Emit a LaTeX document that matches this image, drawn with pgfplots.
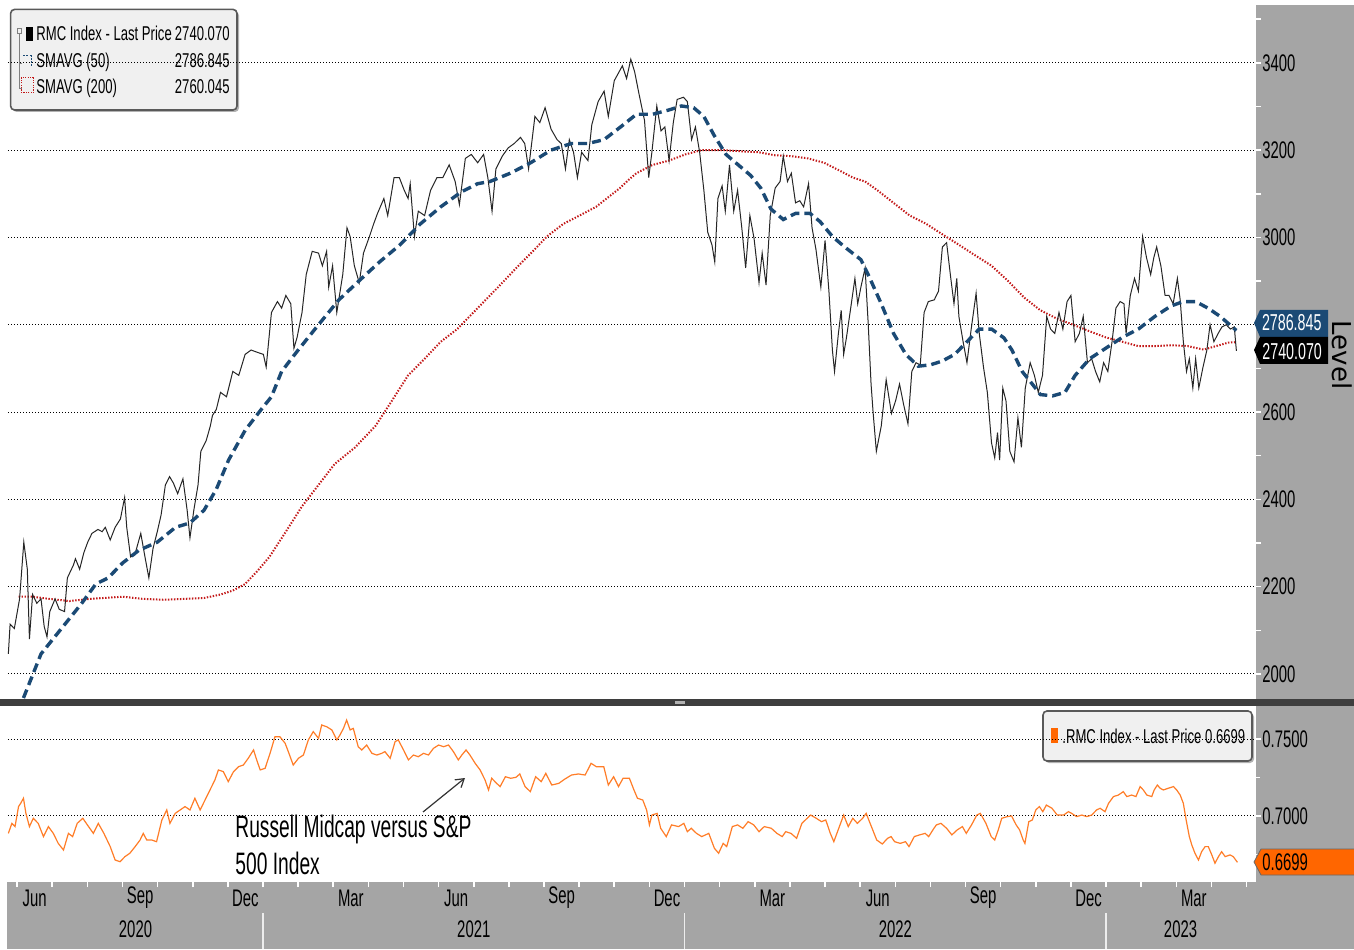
\documentclass[border=0pt]{standalone}
\usepackage{fontspec}
\setmainfont{Liberation Sans}[FakeStretch=0.655]
\newfontfamily\tickfont{Liberation Sans}[FakeStretch=0.62]
\newfontfamily\levelfont{DejaVu Sans}
\usepackage{pgfplots}
\pgfplotsset{compat=1.18}
\usetikzlibrary{arrows.meta}
\definecolor{navy}{RGB}{27,74,117}
\definecolor{smared}{RGB}{195,25,25}
\definecolor{ratioorange}{RGB}{255,125,40}
\definecolor{panelgray}{RGB}{165,165,165}
\definecolor{bargray}{RGB}{62,62,62}
\definecolor{boxorange}{RGB}{255,102,0}
\newcommand{\tf}{\tickfont\fontsize{12}{12}\selectfont}
\newcommand{\lf}{\fontsize{10}{10}\selectfont}
\begin{document}
\begin{tikzpicture}
\useasboundingbox (0pt,0pt) rectangle (677pt,474.5pt);
\fill[white] (0pt,0pt) rectangle (677pt,474.5pt);
\fill[panelgray] (628pt,0pt) rectangle (677pt,472pt);
\fill[panelgray] (3.5pt,0pt) rectangle (677pt,33.5pt);
\fill[bargray] (0pt,121.5pt) rectangle (677pt,125pt);
\fill[gray!60] (337.5pt,122.3pt) rectangle (342.5pt,124.2pt);
% upper legend box
\fill[black!30, rounded corners=2pt] (6.3pt,418.5pt) rectangle (119.5pt,468.8pt);
\draw[rounded corners=2pt, fill=black!6, draw=black!65, line width=0.8pt] (5.3pt,419.5pt) rectangle (118.5pt,469.8pt);
\draw[gray, line width=0.3pt] (8.7pt,457.8pt) rectangle (10.5pt,460.5pt);
\draw[gray, line width=0.3pt] (9.6pt,457.8pt) -- (9.6pt,430.5pt) -- (11pt,430.5pt);
\draw[gray, line width=0.3pt] (9.6pt,443pt) -- (11pt,443pt);
\fill[black] (13pt,454.2pt) rectangle (16.7pt,460.8pt);
\draw[navy, line width=0.5pt, dash pattern=on 1pt off 0.7pt] (11.5pt,446.5pt) -- (15.8pt,446.5pt) -- (15.8pt,441pt);
\draw[smared, line width=0.5pt, dash pattern=on 0.6pt off 0.6pt] (10.5pt,428pt) rectangle (16.5pt,435.5pt);
\node[anchor=base west, inner sep=0, font=\lf] at (18pt,454.2pt) {RMC Index - Last Price};
\node[anchor=base east, inner sep=0, font=\lf] at (115pt,454.2pt) {2740.070};
\node[anchor=base west, inner sep=0, font=\lf] at (18pt,440.8pt) {SMAVG (50)};
\node[anchor=base east, inner sep=0, font=\lf] at (115pt,440.8pt) {2786.845};
\node[anchor=base west, inner sep=0, font=\lf] at (18pt,427.5pt) {SMAVG (200)};
\node[anchor=base east, inner sep=0, font=\lf] at (115pt,427.5pt) {2760.045};
% lower legend box
\fill[black!30, rounded corners=2pt] (522.5pt,93pt) rectangle (627pt,118pt);
\draw[rounded corners=2pt, fill=black!6, draw=black!65, line width=0.8pt] (521.5pt,94pt) rectangle (626pt,119pt);
\fill[boxorange] (525.5pt,103pt) rectangle (529pt,110.5pt);
\node[anchor=base west, inner sep=0, font=\lf] at (531pt,103pt) {.RMC Index - Last Price 0.6699};

\begin{scope}[shift={(4pt,125pt)}]
\begin{axis}[
  at={(0pt,0pt)}, anchor=south west, scale only axis,
  width=623.5pt, height=347pt,
  xmin=4.74, xmax=40.24, ymin=1942.7, ymax=3532.3,
  axis line style={draw=none},
  xtick=\empty,
  ytick={2000,2200,2400,2600,2800,3000,3200,3400},
  yticklabels={2000,2200,2400,2600,,3000,3200,3400},
  minor ytick={2100,2300,...,3500},
  ytick pos=right, yticklabel pos=right,
  tick align=outside,
  major tick length=3pt, minor tick length=3pt,
  tick style={white, line width=0.8pt},
  ymajorgrids,
  major grid style={black, line width=0.5pt, dash pattern=on 0.5pt off 1pt},
  yticklabel style={font=\tf, anchor=west, inner sep=0pt, xshift=0.5pt},
  /pgf/number format/assume math mode=true,
  /pgf/number format/1000 sep={},
  scaled y ticks=false,
  clip mode=individual,
]
\addplot[smared, line width=1pt, dash pattern=on 0.7pt off 0.8pt] table[x=m,y=v] {
m v
5.04 2177
5.44 2177
5.91 2172
6.49 2167
7.07 2172
8.00 2177
8.58 2172
9.16 2170
9.74 2172
10.32 2174
10.79 2182
11.14 2191
11.49 2206
11.83 2235
12.18 2268
12.65 2326
13.11 2384
13.58 2433
14.04 2481
14.62 2519
15.20 2568
15.67 2626
16.13 2684
16.60 2722
17.06 2761
17.53 2790
17.88 2819
18.34 2857
18.81 2896
19.27 2935
19.74 2973
20.08 3002
20.55 3031
21.01 3050
21.48 3070
21.94 3099
22.16 3113
22.41 3132
22.63 3147
23.09 3166
23.56 3176
24.02 3190
24.49 3200
25.07 3200
25.65 3197
26.11 3195
26.58 3188
27.04 3186
27.51 3181
27.97 3171
28.44 3152
28.79 3137
29.14 3128
29.49 3108
29.95 3079
30.41 3050
30.88 3031
31.34 3007
31.81 2983
32.27 2959
32.74 2935
33.20 2901
33.67 2862
34.13 2833
34.60 2814
35.06 2800
35.53 2785
35.99 2771
36.46 2761
36.92 2751
37.39 2751
37.85 2753
38.32 2751
38.78 2743
39.13 2751
39.48 2759
39.71 2760.045
};
\addplot[black!85, line width=0.5pt] table[x=m,y=v] {
m v
4.75 2046
4.80 2114
4.92 2104
5.07 2172
5.19 2302
5.29 2240
5.35 2080
5.44 2182
5.56 2162
5.68 2172
5.77 2109
5.85 2085
5.93 2143
6.08 2172
6.20 2148
6.35 2143
6.43 2220
6.60 2249
6.66 2264
6.78 2240
6.90 2278
7.01 2302
7.13 2322
7.30 2331
7.42 2326
7.51 2336
7.65 2307
7.79 2336
7.94 2355
8.06 2404
8.12 2336
8.23 2268
8.35 2273
8.52 2322
8.64 2268
8.75 2220
8.87 2288
8.99 2326
9.10 2365
9.22 2433
9.34 2452
9.45 2437
9.57 2413
9.72 2447
9.84 2375
9.92 2312
10.03 2375
10.15 2433
10.23 2510
10.38 2534
10.50 2568
10.56 2592
10.67 2606
10.79 2645
10.96 2635
11.14 2693
11.31 2684
11.49 2732
11.66 2742
11.83 2737
12.01 2732
12.09 2703
12.24 2828
12.41 2853
12.53 2838
12.65 2867
12.79 2848
12.88 2746
12.97 2771
13.11 2828
13.23 2915
13.40 2968
13.58 2964
13.69 2935
13.81 2968
13.87 2886
13.98 2935
14.10 2828
14.27 2915
14.39 3022
14.48 3002
14.60 2935
14.74 2896
14.86 2964
15.03 3002
15.15 3031
15.26 3055
15.44 3089
15.55 3050
15.73 3137
15.88 3137
16.02 3108
16.13 3089
16.19 3123
16.31 3002
16.42 3060
16.60 3050
16.77 3108
16.95 3137
17.12 3137
17.30 3166
17.47 3128
17.59 3075
17.76 3181
17.93 3190
18.11 3171
18.28 3190
18.40 3137
18.52 3060
18.63 3157
18.81 3186
18.98 3205
19.15 3215
19.33 3229
19.45 3215
19.56 3157
19.74 3277
19.88 3263
20.03 3297
20.20 3248
20.37 3224
20.49 3215
20.61 3157
20.72 3224
20.84 3195
20.95 3137
21.07 3195
21.25 3176
21.36 3258
21.54 3311
21.71 3335
21.83 3277
22.00 3359
22.23 3393
22.35 3364
22.47 3408
22.58 3379
22.70 3330
22.86 3268
22.98 3137
23.07 3195
23.21 3301
23.33 3244
23.44 3253
23.56 3176
23.68 3263
23.79 3316
23.97 3321
24.08 3311
24.20 3224
24.31 3253
24.43 3195
24.55 3108
24.66 3012
24.78 2983
24.86 2944
24.95 3089
25.07 3118
25.16 3060
25.28 3166
25.40 3060
25.51 3108
25.63 3022
25.74 2930
25.86 3050
25.98 2997
26.12 2896
26.21 2964
26.32 2891
26.44 3050
26.58 3113
26.72 3128
26.81 3186
26.93 3128
27.04 3147
27.16 3079
27.28 3084
27.39 3070
27.53 3123
27.63 3022
27.74 2973
27.88 2886
28.00 2993
28.11 2877
28.21 2741
28.27 2693
28.38 2780
28.46 2833
28.53 2732
28.61 2771
28.73 2838
28.85 2906
28.93 2848
29.02 2886
29.14 2930
29.23 2800
29.31 2664
29.37 2597
29.46 2510
29.60 2568
29.74 2674
29.89 2597
30.01 2626
30.12 2664
30.24 2616
30.36 2573
30.47 2693
30.59 2713
30.71 2708
30.82 2828
30.94 2853
31.11 2857
31.23 2877
31.34 2978
31.46 2988
31.58 2906
31.67 2848
31.75 2906
31.81 2819
31.93 2761
32.04 2713
32.16 2790
32.30 2872
32.39 2780
32.51 2703
32.62 2645
32.74 2529
32.83 2495
32.91 2553
32.97 2490
33.06 2655
33.15 2626
33.26 2510
33.38 2486
33.49 2587
33.59 2519
33.70 2655
33.84 2713
33.96 2684
34.07 2645
34.19 2684
34.31 2819
34.42 2790
34.54 2780
34.66 2828
34.77 2790
34.89 2853
35.00 2867
35.12 2761
35.24 2780
35.35 2819
35.47 2713
35.59 2722
35.70 2693
35.82 2669
35.93 2713
36.05 2693
36.17 2761
36.28 2838
36.40 2853
36.51 2848
36.57 2780
36.69 2867
36.81 2906
36.92 2877
37.04 3002
37.15 2954
37.27 2915
37.36 2954
37.44 2978
37.56 2935
37.68 2867
37.79 2867
37.91 2848
38.03 2906
38.11 2857
38.20 2761
38.29 2693
38.37 2722
38.47 2655
38.55 2722
38.64 2655
38.76 2703
38.87 2742
38.96 2800
39.07 2761
39.19 2780
39.30 2795
39.42 2800
39.54 2790
39.65 2795
39.71 2740.07
};
\addplot[navy, line width=1.7pt, dash pattern=on 4.5pt off 2.5pt] table[x=m,y=v] {
m v
5.18 1945
5.68 2046
6.26 2104
6.84 2162
7.24 2206
7.59 2220
8.00 2254
8.46 2283
8.99 2302
9.51 2336
9.92 2346
10.32 2375
10.67 2423
11.02 2490
11.49 2558
11.95 2606
12.24 2635
12.53 2693
13.00 2742
13.58 2800
14.16 2857
14.74 2901
15.32 2944
15.90 2983
16.48 3031
17.06 3070
17.64 3104
18.11 3123
18.46 3128
19.04 3147
19.62 3171
20.20 3200
20.78 3215
21.25 3215
21.71 3224
22.18 3253
22.63 3282
23.09 3282
23.56 3292
23.91 3301
24.26 3297
24.55 3277
24.84 3234
25.18 3190
25.53 3166
25.88 3142
26.17 3113
26.46 3065
26.81 3041
27.16 3055
27.57 3055
27.86 3036
28.21 3002
28.56 2978
29.02 2949
29.25 2911
29.60 2848
29.95 2780
30.30 2732
30.65 2705
31.00 2708
31.34 2717
31.69 2732
32.04 2761
32.39 2790
32.74 2790
33.09 2770
33.32 2742
33.61 2693
33.90 2664
34.13 2640
34.48 2637
34.83 2645
35.12 2684
35.53 2722
35.99 2746
36.46 2771
36.92 2790
37.39 2819
37.85 2843
38.20 2853
38.55 2853
38.90 2838
39.25 2819
39.59 2795
39.71 2786.845
};
\end{axis}
\end{scope}

\begin{scope}[shift={(4pt,33.5pt)}]
\begin{axis}[
  at={(0pt,0pt)}, anchor=south west, scale only axis,
  width=623.5pt, height=87.5pt,
  xmin=4.74, xmax=40.24, ymin=0.6571, ymax=0.7708,
  axis line style={draw=none},
  xtick={5.5,8.5,...,38.5},
  xticklabels={Jun,Sep,Dec,Mar,Jun,Sep,Dec,Mar,Jun,Sep,Dec,Mar},
  minor xtick={5,6,...,40},
  xtick pos=bottom,
  ytick={0.70,0.75},
  minor ytick={0.675,0.725},
  ytick pos=right, yticklabel pos=right,
  tick align=outside,
  major tick length=3pt, minor tick length=2.5pt,
  tick style={white, line width=0.8pt},
  major x tick style={draw=none},
  ymajorgrids,
  major grid style={black, line width=0.5pt, dash pattern=on 0.5pt off 1pt},
  yticklabel style={font=\tf, anchor=west, inner sep=0pt, xshift=0.5pt,
    /pgf/number format/fixed, /pgf/number format/fixed zerofill, /pgf/number format/precision=4},
  xticklabel style={font=\tf, anchor=center, inner sep=0pt, yshift=-5pt},
  /pgf/number format/assume math mode=true,
  scaled y ticks=false,
  clip mode=individual,
]
\addplot[ratioorange, line width=0.6pt] table[x=m,y=v] {
m v
4.75 0.6887
4.85 0.6952
4.94 0.6931
5.04 0.7061
5.10 0.7082
5.18 0.7115
5.25 0.7017
5.35 0.6931
5.46 0.6985
5.60 0.6952
5.75 0.6866
5.89 0.6931
6.03 0.6887
6.17 0.6822
6.32 0.6779
6.46 0.6887
6.58 0.6866
6.71 0.6952
6.87 0.6985
7.00 0.6942
7.17 0.6887
7.31 0.6952
7.47 0.6887
7.65 0.6801
7.79 0.6714
7.93 0.6703
8.07 0.6736
8.21 0.6758
8.36 0.6801
8.50 0.6844
8.59 0.6887
8.69 0.6844
8.83 0.6844
8.97 0.6833
9.12 0.6974
9.26 0.7039
9.35 0.6952
9.50 0.7017
9.64 0.7039
9.78 0.7061
9.92 0.7039
10.06 0.7115
10.21 0.7039
10.35 0.7104
10.49 0.7169
10.63 0.7234
10.73 0.7299
10.87 0.7288
11.01 0.7223
11.16 0.7288
11.30 0.7320
11.44 0.7331
11.58 0.7375
11.73 0.7429
11.82 0.7364
11.92 0.7299
12.06 0.7310
12.20 0.7407
12.34 0.7515
12.48 0.7515
12.63 0.7472
12.72 0.7418
12.86 0.7331
13.01 0.7375
13.15 0.7396
13.29 0.7494
13.43 0.7548
13.58 0.7504
13.67 0.7591
13.81 0.7580
13.96 0.7559
14.10 0.7494
14.19 0.7526
14.29 0.7569
14.38 0.7623
14.48 0.7559
14.57 0.7569
14.71 0.7450
14.81 0.7429
14.95 0.7461
15.10 0.7407
15.24 0.7396
15.38 0.7407
15.47 0.7418
15.62 0.7375
15.76 0.7483
15.85 0.7494
16.00 0.7429
16.14 0.7364
16.28 0.7396
16.42 0.7385
16.57 0.7407
16.71 0.7396
16.85 0.7439
17.00 0.7461
17.14 0.7450
17.28 0.7461
17.42 0.7418
17.56 0.7364
17.66 0.7396
17.78 0.7429
17.89 0.7396
18.04 0.7342
18.18 0.7299
18.32 0.7234
18.42 0.7169
18.51 0.7245
18.65 0.7212
18.75 0.7191
18.90 0.7255
19.05 0.7245
19.20 0.7251
19.31 0.7273
19.46 0.7191
19.61 0.7158
19.76 0.7255
19.92 0.7223
20.05 0.7277
20.22 0.7201
20.42 0.7212
20.58 0.7238
20.78 0.7266
20.98 0.7273
21.17 0.7266
21.34 0.7342
21.49 0.7320
21.70 0.7320
21.83 0.7201
21.98 0.7255
22.12 0.7191
22.25 0.7245
22.43 0.7245
22.56 0.7169
22.66 0.7115
22.81 0.7104
22.92 0.7039
23.00 0.6942
23.07 0.7006
23.22 0.7017
23.32 0.6920
23.48 0.6866
23.63 0.6942
23.83 0.6931
23.98 0.6952
24.08 0.6898
24.19 0.6920
24.34 0.6887
24.49 0.6866
24.69 0.6887
24.85 0.6790
24.97 0.6758
25.10 0.6822
25.20 0.6801
25.36 0.6931
25.51 0.6942
25.66 0.6920
25.81 0.6963
25.97 0.6942
26.12 0.6898
26.27 0.6931
26.47 0.6920
26.63 0.6887
26.78 0.6866
26.88 0.6898
27.03 0.6887
27.19 0.6855
27.34 0.6952
27.49 0.6985
27.59 0.7006
27.75 0.6985
27.90 0.6963
28.02 0.6974
28.15 0.6887
28.25 0.6833
28.39 0.6920
28.53 0.7006
28.66 0.6931
28.79 0.6985
28.92 0.6952
29.07 0.6985
29.17 0.7017
29.32 0.6931
29.47 0.6844
29.63 0.6818
29.78 0.6855
29.88 0.6866
29.98 0.6833
30.14 0.6822
30.29 0.6833
30.39 0.6801
30.54 0.6866
30.69 0.6877
30.85 0.6887
30.95 0.6866
31.10 0.6920
31.17 0.6942
31.30 0.6952
31.46 0.6920
31.61 0.6877
31.76 0.6909
31.91 0.6931
32.02 0.6887
32.17 0.6942
32.32 0.7006
32.42 0.7017
32.58 0.6952
32.73 0.6866
32.83 0.6844
32.93 0.6909
33.03 0.6985
33.19 0.6996
33.31 0.7000
33.44 0.6942
33.54 0.6909
33.64 0.6844
33.69 0.6822
33.80 0.6963
33.90 0.6974
34.00 0.7039
34.10 0.7061
34.20 0.7028
34.30 0.7071
34.46 0.7050
34.61 0.7006
34.79 0.7006
34.93 0.7028
35.02 0.7017
35.16 0.6996
35.31 0.7006
35.45 0.6996
35.59 0.7006
35.73 0.7039
35.83 0.7050
35.97 0.7028
36.07 0.7082
36.21 0.7126
36.35 0.7136
36.49 0.7158
36.59 0.7126
36.73 0.7136
36.85 0.7126
36.97 0.7191
37.06 0.7169
37.16 0.7136
37.30 0.7126
37.37 0.7169
37.46 0.7201
37.54 0.7180
37.63 0.7169
37.77 0.7180
37.92 0.7191
38.01 0.7169
38.11 0.7136
38.20 0.7082
38.28 0.6974
38.37 0.6866
38.44 0.6812
38.53 0.6758
38.63 0.6714
38.72 0.6768
38.82 0.6801
38.91 0.6801
39.01 0.6747
39.10 0.6693
39.20 0.6736
39.29 0.6768
39.39 0.6736
39.53 0.6747
39.62 0.6736
39.74 0.6699
};
\foreach \yr in {12,24,36}{
  \edef\tmp{\noexpand\draw[white!80!panelgray, line width=0.6pt] (axis cs:\yr,0.6571) ++(0pt,-15.5pt) -- ++(0pt,-18pt);}\tmp
}
\node[font=\tf, yshift=-23.5pt] at (axis cs:8.37,0.6571) {2020};
\node[font=\tf, yshift=-23.5pt] at (axis cs:18,0.6571) {2021};
\node[font=\tf, yshift=-23.5pt] at (axis cs:30,0.6571) {2022};
\node[font=\tf, yshift=-23.5pt] at (axis cs:38.12,0.6571) {2023};
\end{axis}
\end{scope}

% annotation
\node[anchor=base west, inner sep=0, font=\tickfont\fontsize{15.5}{15.5}\selectfont] at (117.5pt,56pt) {Russell Midcap versus S\&P};
\node[anchor=base west, inner sep=0, font=\tickfont\fontsize{15.5}{15.5}\selectfont] at (117.5pt,37.5pt) {500 Index};
\draw[black!80, line width=0.6pt, -{Straight Barb[length=4pt,width=5pt]}] (211.5pt,68.5pt) -- (232.5pt,85.5pt);

% right panel value labels
\fill[navy] (627pt,313pt) -- (630pt,319.5pt) -- (664pt,319.5pt) -- (664pt,306pt) -- (630pt,306pt) -- cycle;
\node[anchor=west, inner sep=0, font=\tickfont\fontsize{11.5}{11.5}\selectfont, text=white] at (630.8pt,313.3pt) {2786.845};
\fill[black] (627pt,299.5pt) -- (630pt,306pt) -- (664pt,306pt) -- (664pt,292.5pt) -- (630pt,292.5pt) -- cycle;
\node[anchor=west, inner sep=0, font=\tickfont\fontsize{11.5}{11.5}\selectfont, text=white] at (631pt,298.8pt) {2740.070};
\node[rotate=-90, font=\levelfont\fontsize{13}{13}\selectfont] at (671.3pt,297pt) {Level};
\filldraw[fill=boxorange, draw=black!60, line width=0.4pt] (627pt,43.5pt) -- (630.5pt,50pt) -- (677.5pt,50pt) -- (677.5pt,37pt) -- (630.5pt,37pt) -- cycle;
\node[anchor=west, inner sep=0, font=\tf] at (631pt,43.5pt) {0.6699};
\end{tikzpicture}
\end{document}
